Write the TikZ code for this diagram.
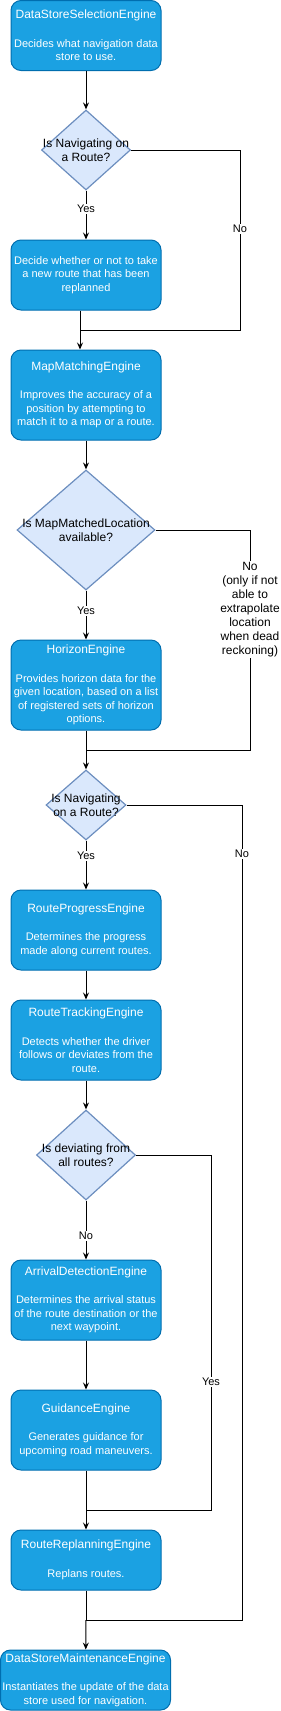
\documentclass[tikz,border=0pt]{standalone}
\usepackage{fontspec}
\setmainfont{Liberation Sans}
\usetikzlibrary{arrows.meta,shapes.geometric}
\definecolor{engfill}{HTML}{1BA1E2}
\definecolor{engline}{HTML}{006EAF}
\definecolor{decfill}{HTML}{DAE8FC}
\definecolor{decline}{HTML}{6C8EBF}
\begin{document}
\begin{tikzpicture}[x=1pt,y=-1pt,line width=1pt,
  engine/.style={draw=engline,fill=engfill,rounded corners=10pt,text=white,align=center,
    inner sep=0pt,minimum width=150pt,font=\fontsize{11}{13.5}\selectfont},
  decision/.style={diamond,draw=decline,fill=decfill,line width=1.2pt,inner sep=0pt},
  dtext/.style={align=center,font=\fontsize{12}{14}\selectfont},
  lbl/.style={fill=white,inner sep=1pt,align=center,font=\fontsize{11}{14}\selectfont},
  flow/.style={-{Stealth[length=7pt,width=6pt,inset=2.5pt]}}]
\useasboundingbox (0,0) rectangle (281,1711);
% engines
\node[engine,minimum height=70pt] (b1) at (86,35.5) {{\fontsize{12}{14}\selectfont DataStoreSelectionEngine}\\[15pt]Decides what navigation data\\store to use.};
\node[engine,minimum height=70pt] (b2) at (86,275) {Decide whether or not to take\\a new route that has been\\replanned};
\node[engine,minimum height=90pt] (b3) at (86,395) {{\fontsize{12}{14}\selectfont MapMatchingEngine}\\[15pt]Improves the accuracy of a\\position by attempting to\\match it to a map or a route.};
\node[engine,minimum height=90pt] (b4) at (86,685) {{\fontsize{12}{14}\selectfont HorizonEngine}\\[15pt]Provides horizon data for the\\given location, based on a list\\of registered sets of horizon\\options.};
\node[engine,minimum height=80pt] (b5) at (86,930) {{\fontsize{12}{14}\selectfont RouteProgressEngine}\\[15pt]Determines the progress\\made along current routes.};
\node[engine,minimum height=80pt] (b6) at (86,1040) {{\fontsize{12}{14}\selectfont RouteTrackingEngine}\\[15pt]Detects whether the driver\\follows or deviates from the\\route.};
\node[engine,minimum height=80pt] (b7) at (86,1300) {{\fontsize{12}{14}\selectfont ArrivalDetectionEngine}\\[15pt]Determines the arrival status\\of the route destination or the\\next waypoint.};
\node[engine,minimum height=80pt] (b8) at (86,1430) {{\fontsize{12}{14}\selectfont GuidanceEngine}\\[15pt]Generates guidance for\\upcoming road maneuvers.};
\node[engine,minimum height=60pt] (b9) at (86,1560) {{\fontsize{12}{14}\selectfont RouteReplanningEngine}\\[15pt]Replans routes.};
\node[engine,minimum height=60pt,minimum width=170pt] (b10) at (85.5,1680) {{\fontsize{12}{14}\selectfont DataStoreMaintenanceEngine}\\[15pt]Instantiates the update of the data\\store used for navigation.};
% decisions
\node[decision,minimum width=89pt,minimum height=80pt] (d1) at (86,150) {};
\node[dtext] (d1t) at (d1) {Is Navigating on\\a Route?};
\node[decision,minimum width=138pt,minimum height=120pt] (d2) at (86,530) {};
\node[dtext] (d2t) at (d2) {Is MapMatchedLocation\\available?};
\node[decision,minimum width=80pt,minimum height=70pt] (d3) at (86,805) {};
\node[dtext] (d3t) at (d3) {Is Navigating\\on a Route?};
\node[decision,minimum width=99pt,minimum height=90pt] (d4) at (86,1155) {};
\node[dtext] (d4t) at (d4) {Is deviating from\\all routes?};
% joins
\coordinate (j1) at (80,330);
\coordinate (j2) at (86,750);
\coordinate (j3) at (86,1510);
\coordinate (j4) at (86,1620);
\coordinate (n1) at (240,330);
\coordinate (n2) at (250,750);
\coordinate (n3) at (242,1620);
\coordinate (n4) at (211,1510);
% main flow
\draw[flow] (b1) -- (d1);
\draw[flow] (d1) -- node[lbl,pos=.38] (y1) {Yes} (b2);
\draw (b2.south -| j1) -- (j1);
\draw[flow] (j1) -- (b3.north -| j1);
\draw[flow] (b3) -- (d2);
\draw[flow] (d2) -- node[lbl,pos=.42] (y2) {Yes} (b4);
\draw (b4) -- (j2);
\draw[flow] (j2) -- (d3);
\draw[flow] (d3) -- node[lbl,pos=.32] (y3) {Yes} (b5);
\draw[flow] (b5) -- (b6);
\draw[flow] (b6) -- (d4);
\draw[flow] (d4) -- node[lbl,pos=.6] (y4) {No} (b7);
\draw[flow] (b7) -- (b8);
\draw (b8) -- (j3);
\draw[flow] (j3) -- (b9);
\draw (b9) -- (j4);
\draw[flow] (j4) -- (b10);
% side branches
\draw (d1.east) -| node[lbl,pos=.72] (no1) {No} (n1) -- (j1);
\draw (d2.east) -| node[lbl,pos=.68,font=\fontsize{12}{14}\selectfont] (no2) {No\\(only if not\\able to\\extrapolate\\location\\when dead\\reckoning)} (n2) -- (j2);
\draw (d3.east) -| node[lbl,pos=.53] (no3) {No} (n3) -- (j4);
\draw (d4.east) -| node[lbl,pos=.82] (no4) {Yes} (n4) -- (j3);
\end{tikzpicture}
\end{document}
